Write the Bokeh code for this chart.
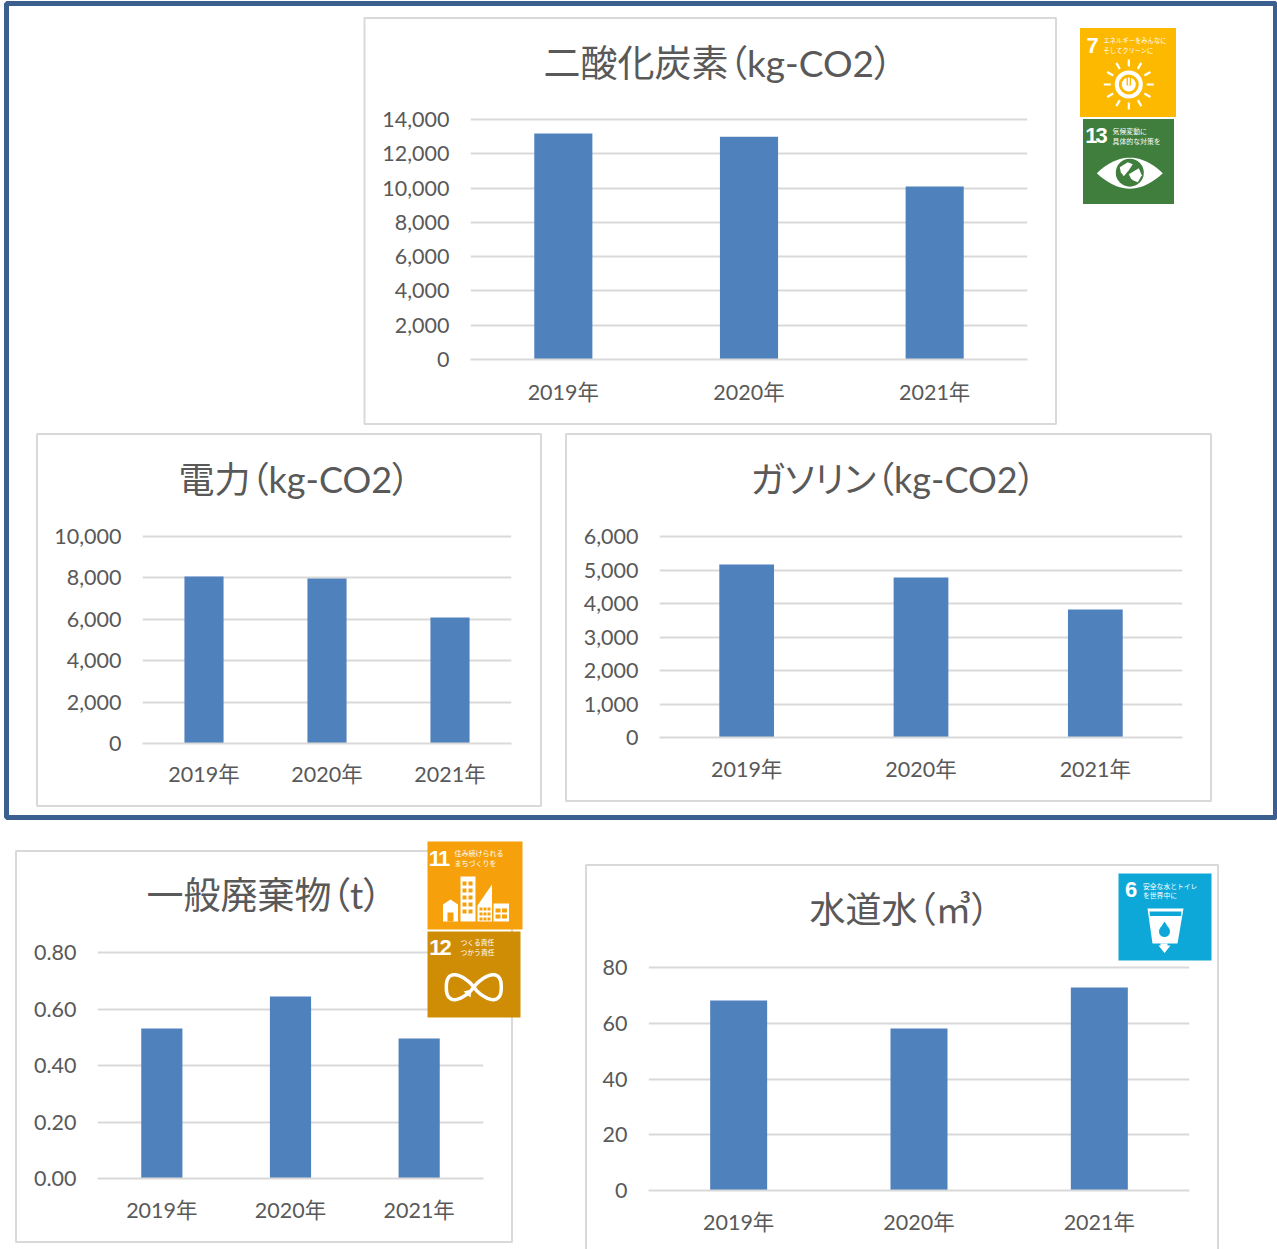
import math
from bokeh.core.properties import value
from bokeh.embed import file_html
from bokeh.models import ColumnDataSource, FactorRange, FixedTicker, NumeralTickFormatter, Range1d, Title
from bokeh.plotting import figure
from bokeh.resources import INLINE

# ---------- data ----------
years = ["2019年", "2020年", "2021年"]

co2_title = "二酸化炭素（kg-CO2）"
co2_values = [13180, 13000, 10090]
co2_ticks = [0, 2000, 4000, 6000, 8000, 10000, 12000, 14000]

power_title = "電力（kg-CO2）"
power_values = [8070, 7970, 6090]
power_ticks = [0, 2000, 4000, 6000, 8000, 10000]

gasoline_title = "ガソリン（kg-CO2）"
gasoline_values = [5164, 4776, 3821]
gasoline_ticks = [0, 1000, 2000, 3000, 4000, 5000, 6000]

waste_title = "一般廃棄物（t）"
waste_values = [0.531, 0.644, 0.496]
waste_ticks = [0.0, 0.2, 0.4, 0.6, 0.8]

water_title = "水道水（㎥）"
water_values = [68.2, 58.1, 72.8]
water_ticks = [0, 20, 40, 60, 80]

W, H = 1277, 1249
FONT = "Lato, 'Noto Sans CJK JP', sans-serif"
CJK = "'Noto Sans CJK JP', sans-serif"
TXT = "#595959"
GRID = "#d9d9d9"
BAR = "#4f81bd"


def canvas():
    p = figure(width=W, height=H, x_range=Range1d(0, W), y_range=Range1d(H, 0),
               output_backend="svg", toolbar_location=None, min_border=0,
               x_axis_location=None, y_axis_location=None)
    p.grid.visible = False
    p.outline_line_color = None
    p.background_fill_color = None
    p.border_fill_color = None
    p.styles = {"position": "absolute", "left": "0px", "top": "0px"}
    return p


# ---------- background: frame and chart boxes ----------
bg = canvas()
bg.quad(left=[6], right=[1275], top=[3], bottom=[817], fill_color=None,
        line_color="#3b5f8f", line_width=5)
boxes = [(364, 1055.5, 17.5, 423.5), (36.5, 540.5, 433.5, 805.5), (565.5, 1210.5, 433.5, 800.5),
         (15.5, 511.5, 850.5, 1241.5), (585.5, 1217.5, 864.5, 1262)]
for l, r, t, b in boxes:
    bg.quad(left=[l], right=[r], top=[t], bottom=[b], fill_color="white",
            line_color="#d9d9d9", line_width=2)


def chart(title, vals, ticks, fmt, box, frame, title_left, title_bottom, title_size, bar_w, x_std):
    l, r, t, b = box
    fl, fr, ft, fb = frame
    pad = 60
    top = t - pad
    bottom = min(b, H)
    # a little headroom so that the top gridline is drawn
    head = 2
    y_end = ticks[-1] + head * (ticks[-1] - ticks[0]) / (fb - ft)
    p = figure(width=r - l, height=bottom - top,
               x_range=FactorRange(factors=years, range_padding=0),
               y_range=Range1d(ticks[0], y_end),
               output_backend="svg", toolbar_location=None,
               min_border_left=fl - l, min_border_right=r - fr,
               min_border_top=ft - head - top, min_border_bottom=bottom - fb)
    p.styles = {"position": "absolute", "left": f"{l}px", "top": f"{top}px",
                "font-feature-settings": "'palt'"}
    p.background_fill_color = None
    p.border_fill_color = None
    p.outline_line_color = None
    src = ColumnDataSource(dict(x=years, y=vals))
    p.vbar(x="x", top="y", width=bar_w, source=src, fill_color=BAR, line_color=None)
    p.title = None
    ttl = Title(text=title, align="left", vertical_align="bottom",
                offset=title_left - fl, standoff=2 * (ft - head - title_bottom),
                text_font=FONT, text_font_size=f"{title_size}px",
                text_font_style="normal", text_color=TXT)
    p.add_layout(ttl, "above")
    p.xgrid.visible = False
    p.ygrid.grid_line_color = GRID
    p.ygrid.grid_line_width = 2
    p.yaxis.ticker = FixedTicker(ticks=ticks)
    p.yaxis.formatter = NumeralTickFormatter(format=fmt)
    for ax in (p.xaxis[0], p.yaxis[0]):
        ax.major_tick_line_color = None
        ax.minor_tick_line_color = None
        ax.major_label_text_font = FONT
        ax.major_label_text_font_size = "21.5px"
        ax.major_label_text_color = TXT
    p.yaxis.axis_line_color = None
    p.yaxis.major_label_standoff = 15
    p.xaxis.axis_line_color = GRID
    p.xaxis.axis_line_width = 2
    p.xaxis.major_label_standoff = x_std
    p.xaxis.major_label_text_align = "center"
    return p


c1 = chart(co2_title, co2_values, co2_ticks, "0,0", (364, 1056, 18, 424), (470, 1027, 119, 359), 543, 84, 37, 0.313, 13)
c2 = chart(power_title, power_values, power_ticks, "0,0", (37, 541, 434, 806), (142, 511, 536, 743), 178, 500, 36, 0.318, 11)
c3 = chart(gasoline_title, gasoline_values, gasoline_ticks, "0,0", (566, 1211, 434, 801), (659, 1182, 536, 737), 750, 500, 36, 0.314, 12)
c4 = chart(waste_title, waste_values, waste_ticks, "0.00", (16, 512, 851, 1242), (97, 483, 952, 1178), 146, 916, 37, 0.32, 12)
c5 = chart(water_title, water_values, water_ticks, "0", (586, 1218, 865, 1262), (648, 1189, 967, 1190), 809, 930, 36, 0.316, 12)

# ---------- overlay: SDG icons ----------
ov = canvas()
nums = canvas()
nums.styles = {"position": "absolute", "left": "0px", "top": "0px", "letter-spacing": "-2px"}
NUMF = "'Liberation Sans', sans-serif"


def icon(x0, x1, y0, y1, color, num, num_x, num_y, num_size, lines, tx, ty, tsize):
    ov.quad(left=[x0], right=[x1], top=[y0], bottom=[y1], fill_color=color, line_color=None)
    nums.text(x=[num_x], y=[num_y], text=[num], text_color="white", text_font=value(NUMF),
              text_font_size=f"{num_size}px", text_font_style="bold", text_align="center",
              text_baseline="middle")
    for i, s in enumerate(lines):
        ov.text(x=[tx], y=[ty[i]], text=[s], text_color="white", text_font=value(CJK),
                text_font_size=f"{tsize}px", text_baseline="middle")


# 7
C7 = "#fdb900"
icon(1079.5, 1175.5, 27.5, 116.5, C7, "7", 1092, 44.5, 22, ["エネルギーをみんなに", "そしてクリーンに"], 1103, [39.5, 49.5], 6.3)
cx, cy = 1128.3, 84
for k in range(12):
    a = math.radians(30 * k)
    ov.segment(x0=[cx + 18 * math.cos(a)], y0=[cy + 18 * math.sin(a)],
               x1=[cx + 25 * math.cos(a)], y1=[cy + 25 * math.sin(a)], line_color="white", line_width=2.2)
ov.scatter(x=[cx], y=[cy], size=28, marker="circle", fill_color="white", line_color=None)
ov.scatter(x=[cx], y=[cy], size=17, marker="circle", fill_color=None, line_color=C7, line_width=3)
ov.segment(x0=[cx], y0=[cy - 8], x1=[cx], y1=[cy + 1], line_color=C7, line_width=4.5)
ov.segment(x0=[cx], y0=[cy - 7], x1=[cx], y1=[cy + 1], line_color="white", line_width=1.8)

# 13
C13 = "#3f7e3c"
icon(1082.5, 1173.5, 118.5, 203.5, C13, "13", 1097, 135, 22, ["気候変動に", "具体的な対策を"], 1112, [130, 140], 6.9)
ex, ey = 1129.3, 172.7
top_edge = [(ex + 33 * t / 10, ey - 15.5 * (1 - (t / 10) ** 2)) for t in range(-10, 11)]
bot_edge = [(ex + 33 * t / 10, ey + 15.5 * (1 - (t / 10) ** 2)) for t in range(10, -11, -1)]
ov.patch(x=[q[0] for q in top_edge + bot_edge], y=[q[1] for q in top_edge + bot_edge],
         fill_color="white", line_color=None)
ov.scatter(x=[ex], y=[ey - 0.5], size=28, marker="circle", fill_color=C13, line_color=None)
ov.patch(x=[ex - 10, ex - 2, ex + 3, ex - 1, ex - 6, ex - 9], y=[ey - 6, ey - 11, ey - 9, ey - 3, ey + 3, ey - 1],
         fill_color="white", line_color=None)
ov.patch(x=[ex - 1, ex + 9, ex + 12, ex + 8, ex + 3, ex + 1], y=[ey + 1, ey - 5, ey + 2, ey + 9, ey + 7, ey + 5],
         fill_color="white", line_color=None)

# 11
C11 = "#f6a00c"
icon(427, 522, 841, 929, C11, "11", 440, 858, 22, ["住み続けられる", "まちづくりを"], 454, [852, 862.5], 7)
ov.patch(x=[442.5, 450, 457.5, 457.5, 442.5], y=[904, 899, 904, 921, 921], fill_color="white", line_color=None)
ov.quad(left=[447], right=[453], top=[912], bottom=[921], fill_color=C11, line_color=None)
ov.quad(left=[460], right=[475], top=[876], bottom=[921], fill_color="white", line_color=None)
for col in range(2):
    for row in range(5):
        ov.quad(left=[462 + 6 * col], right=[466 + 6 * col], top=[881 + 7 * row], bottom=[885 + 7 * row],
                fill_color=C11, line_color=None)
ov.patch(x=[477, 491.5, 491.5, 477], y=[905, 884, 921, 921], fill_color="white", line_color=None)
for col in range(3):
    for row in range(3):
        ov.quad(left=[479 + 4 * col], right=[482 + 4 * col], top=[907 + 5 * row], bottom=[910 + 5 * row],
                fill_color=C11, line_color=None)
ov.quad(left=[493], right=[508.5], top=[903], bottom=[921], fill_color="white", line_color=None)
for col in range(2):
    for row in range(2):
        ov.quad(left=[495 + 6.5 * col], right=[500 + 6.5 * col], top=[908 + 6 * row], bottom=[912 + 6 * row],
                fill_color=C11, line_color=None)

# 12
C12 = "#cf8d06"
icon(427, 520, 931, 1017, C12, "12", 441, 947, 22, ["つくる責任", "つかう責任"], 460, [941.5, 951], 6.8)
ix, iy = 473.3, 986.7
pts = []
for t in range(61):
    th = t / 30 * math.pi
    s2 = math.sin(2 * th)
    pts.append((ix + 27.5 * math.cos(th), iy + 12.5 * math.copysign(abs(s2) ** 0.8, s2)))
ov.line(x=[q[0] for q in pts], y=[q[1] for q in pts], line_color="white", line_width=3.5)
ov.patch(x=[463, 471, 470], y=[991, 989, 997], fill_color="white", line_color=None)

# 6
C6 = "#0ea8d8"
icon(1118, 1211, 873, 960, C6, "6", 1130.7, 889, 22, ["安全な水とトイレ", "を世界中に"], 1142.5, [885, 894], 6.8)
ov.patch(x=[1147, 1183, 1177, 1152], y=[908, 908, 943, 943], fill_color="white", line_color=None)
ov.patch(x=[1149, 1181, 1180.5, 1149.5], y=[911, 911, 915.5, 915.5], fill_color=C6, line_color=None)
ov.patch(x=[1160, 1167, 1167, 1170, 1164, 1158, 1160], y=[943, 943, 945, 945, 952.5, 945, 945],
         fill_color="white", line_color=None)
ov.scatter(x=[1164], y=[931], size=11, marker="circle", fill_color=C6, line_color=None)
ov.patch(x=[1159.5, 1164, 1168.5], y=[928, 921, 928], fill_color=C6, line_color=None)

open("out.html", "w").write(file_html([bg, c1, c2, c3, c4, c5, ov, nums], INLINE))
